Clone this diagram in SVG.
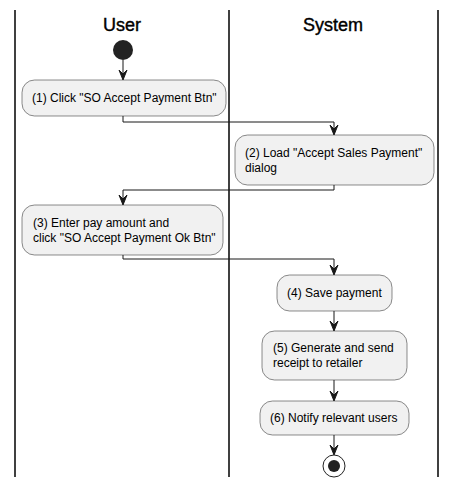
<svg xmlns="http://www.w3.org/2000/svg" width="456" height="488" viewBox="0 0 456 488">
<defs>
<style>
.lane{stroke:#000;stroke-width:1.5;fill:none}
.title{font-family:"Liberation Sans",Arial,sans-serif;font-size:18px;fill:#000;stroke:#000;stroke-width:0.4;text-anchor:middle}
.box{fill:#F1F1F1;stroke:#181818;stroke-width:0.5}
.t{font-family:"Liberation Sans",Arial,sans-serif;font-size:12px;fill:#000}
.c{stroke:#181818;stroke-width:1;fill:none}
.ah{fill:#181818;stroke:#181818;stroke-width:1}
</style>
</defs>
<rect width="456" height="488" fill="#fff"/>
<g id="lanes">
<line class="lane" x1="15" y1="10" x2="15" y2="477"/>
<line class="lane" x1="229" y1="10" x2="229" y2="477"/>
<line class="lane" x1="438" y1="10" x2="438" y2="477"/>
<text class="title" x="122" y="31">User</text>
<text class="title" x="333" y="31">System</text>
</g>
<g id="start"><circle cx="123" cy="50" r="10" fill="#222"/></g>
<g id="n1">
<rect class="box" x="22" y="80" width="204" height="36" rx="12.5"/>
<text class="t" x="32" y="102">(1) Click "SO Accept Payment Btn"</text>
</g>
<g id="n2">
<rect class="box" x="235" y="135" width="199" height="50" rx="12.5"/>
<text class="t" x="245" y="157">(2) Load "Accept Sales Payment"</text>
<text class="t" x="245" y="172">dialog</text>
</g>
<g id="n3">
<rect class="box" x="22" y="205" width="201" height="50" rx="12.5"/>
<text class="t" x="33" y="227">(3) Enter pay amount and</text>
<text class="t" x="33" y="242">click "SO Accept Payment Ok Btn"</text>
</g>
<g id="n4">
<rect class="box" x="277" y="275" width="115" height="36" rx="12.5"/>
<text class="t" x="287" y="297">(4) Save payment</text>
</g>
<g id="n5">
<rect class="box" x="262" y="331" width="145" height="49" rx="12.5"/>
<text class="t" x="273" y="352">(5) Generate and send</text>
<text class="t" x="273" y="367">receipt to retailer</text>
</g>
<g id="n6">
<rect class="box" x="260" y="401" width="149" height="34" rx="12.5"/>
<text class="t" x="270" y="422">(6) Notify relevant users</text>
</g>
<g id="end">
<circle cx="334" cy="466" r="11" fill="none" stroke="#222" stroke-width="1"/>
<circle cx="334" cy="466" r="6" fill="#222"/>
</g>
<g id="connectors">
<path class="c" d="M123,60 V79"/>
<polygon class="ah" points="119,70 123,80 127,70 123,74"/>
<path class="c" d="M123,116 V122 H334 V134"/>
<polygon class="ah" points="330,125 334,135 338,125 334,129"/>
<path class="c" d="M334,185 V190 H123 V204"/>
<polygon class="ah" points="119,195 123,205 127,195 123,199"/>
<path class="c" d="M123,255 V259 H334 V274"/>
<polygon class="ah" points="330,265 334,275 338,265 334,269"/>
<path class="c" d="M334,311 V330"/>
<polygon class="ah" points="330,321 334,331 338,321 334,325"/>
<path class="c" d="M334,380 V400"/>
<polygon class="ah" points="330,391 334,401 338,391 334,395"/>
<path class="c" d="M334,435 V454"/>
<polygon class="ah" points="330,445 334,455 338,445 334,449"/>
</g>
</svg>
